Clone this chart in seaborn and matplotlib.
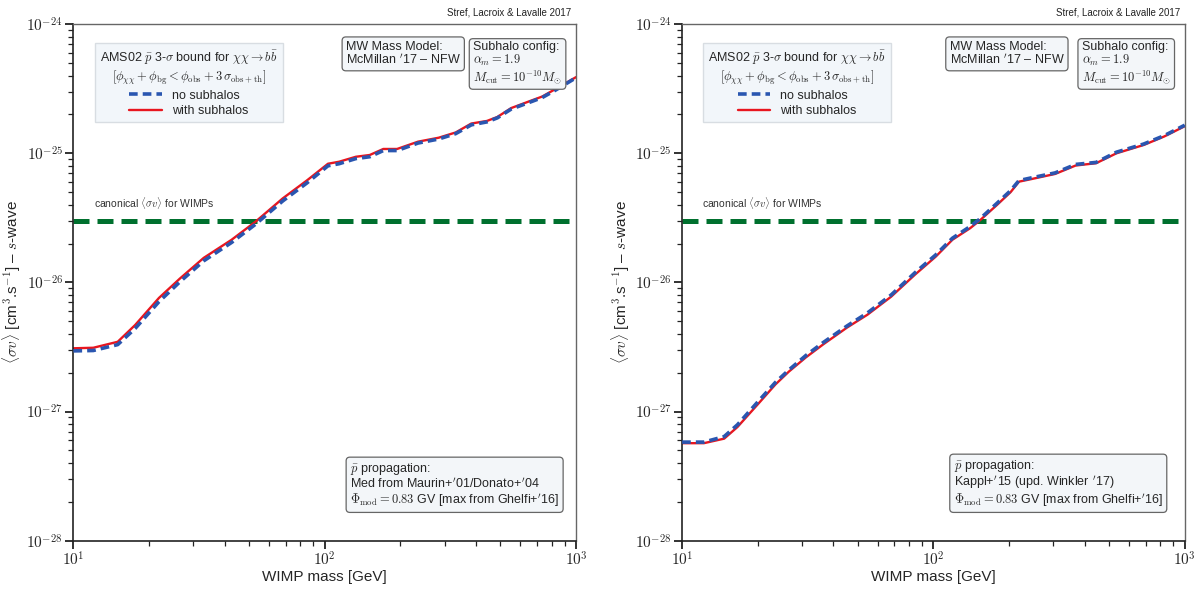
import numpy as np
import pandas as pd
import matplotlib
matplotlib.use("Agg")
import matplotlib.pyplot as plt
import matplotlib.ticker as mticker
import seaborn as sns

sns.set_theme(style="ticks")
plt.rcParams['font.family'] = ['Liberation Sans', 'DejaVu Sans']
plt.rcParams['mathtext.fontset'] = 'cm'

# --- data ---
# left panel: Med propagation
mass_med = [10, 12, 15, 17.6, 21.9, 26.5, 33, 42.6, 53, 68, 85, 103, 114, 133, 151,
            171, 194, 235, 284, 332, 383, 442, 486, 552, 667, 733, 832, 1000]
sv_med_sub = [3.09e-27, 3.12e-27, 3.47e-27, 4.68e-27, 7.59e-27, 1.07e-26, 1.55e-26,
              2.14e-26, 2.95e-26, 4.47e-26, 6.17e-26, 8.3e-26, 8.6e-26, 9.4e-26, 9.7e-26,
              1.08e-25, 1.08e-25, 1.23e-25, 1.32e-25, 1.45e-25, 1.70e-25, 1.78e-25,
              1.91e-25, 2.24e-25, 2.57e-25, 2.75e-25, 3.16e-25, 3.89e-25]
sv_med_nosub = [2.95e-27, 2.97e-27, 3.3e-27, 4.4e-27, 7.1e-27, 1.01e-26, 1.47e-26,
                2.04e-26, 2.82e-26, 4.27e-26, 5.9e-26, 8.0e-26, 8.3e-26, 9.1e-26, 9.4e-26,
                1.05e-25, 1.05e-25, 1.2e-25, 1.29e-25, 1.42e-25, 1.66e-25, 1.75e-25,
                1.88e-25, 2.2e-25, 2.52e-25, 2.7e-25, 3.1e-25, 3.85e-25]

# right panel: Kappl propagation
mass_kap = [10, 12.2, 14.7, 16.6, 20.1, 23.5, 26.6, 31.1, 36.4, 45.3, 54.6, 67.9, 84.5,
            102, 119, 140, 153, 179, 203, 219, 245, 305, 368, 444, 535, 687, 829, 1000]
sv_kap_sub = [5.69e-28, 5.69e-28, 6.17e-28, 7.59e-28, 1.15e-27, 1.62e-27, 2.04e-27,
              2.63e-27, 3.31e-27, 4.47e-27, 5.62e-27, 7.76e-27, 1.15e-26, 1.58e-26,
              2.14e-26, 2.63e-26, 3.02e-26, 3.98e-26, 5.01e-26, 6.03e-26, 6.31e-26,
              6.92e-26, 8.04e-26, 8.38e-26, 1.0e-25, 1.16e-25, 1.35e-25, 1.62e-25]
sv_kap_nosub = [5.8e-28, 5.8e-28, 6.4e-28, 7.9e-28, 1.2e-27, 1.68e-27, 2.1e-27,
                2.72e-27, 3.42e-27, 4.6e-27, 5.8e-27, 8.0e-27, 1.19e-26, 1.63e-26,
                2.2e-26, 2.71e-26, 3.1e-26, 4.1e-26, 5.15e-26, 6.15e-26, 6.45e-26,
                7.05e-26, 8.2e-26, 8.5e-26, 1.02e-25, 1.18e-25, 1.37e-25, 1.65e-25]

canonical_sv = 3e-26
xticks = [10, 100, 1000]
yticks = [1e-28, 1e-27, 1e-26, 1e-25, 1e-24]

legend_title = ("AMS02 $\\bar{p}$ 3-$\\sigma$ bound for $\\chi\\chi\\rightarrow b\\bar{b}$\n"
                "$[\\phi_{\\chi\\chi}+\\phi_{\\rm bg}<\\phi_{\\rm obs}+3\\,\\sigma_{\\rm obs+th}]$")
mw_text = "MW Mass Model:\nMcMillan $'$17 – NFW"
sub_text = "Subhalo config:\n$\\alpha_m = 1.9$\n$M_{\\rm cut} = 10^{-10}M_{\\odot}$"
prop_texts = ["$\\bar{p}$ propagation:\nMed from Maurin+$'$01/Donato+$'$04\n"
              "$\\Phi_{\\rm mod} = 0.83$ GV [max from Ghelfi+$'$16]",
              "$\\bar{p}$ propagation:\nKappl+$'$15 (upd. Winkler $'$17)\n"
              "$\\Phi_{\\rm mod} = 0.83$ GV [max from Ghelfi+$'$16]"]
prop_x = [0.55, 0.54]

panels = [(mass_med, sv_med_nosub, sv_med_sub), (mass_kap, sv_kap_nosub, sv_kap_sub)]

fig, axes = plt.subplots(1, 2, figsize=(12.04, 5.89), dpi=100)
fig.subplots_adjust(left=0.061, right=0.984, bottom=0.082, top=0.959, wspace=0.211)

box = dict(boxstyle="round,pad=0.3", facecolor="#f3f6f9", edgecolor="#666666", lw=0.9)

for i, ax in enumerate(axes):
    mass, nosub, sub = panels[i]
    df = pd.DataFrame({"mass": mass, "nosub": nosub, "sub": sub})
    ax.axhline(canonical_sv, color="#00702e", lw=3.6, ls=(0, (3.2, 1.6)), zorder=1)
    sns.lineplot(data=df, x="mass", y="nosub", ax=ax, color="#2a56b0", lw=2.6,
                 label="no subhalos", zorder=3)
    sns.lineplot(data=df, x="mass", y="sub", ax=ax, color="#e8161f", lw=1.7,
                 label="with subhalos", zorder=2)
    ax.lines[1].set_linestyle((0, (2.4, 1.4)))
    ax.set(xscale="log", yscale="log", xlim=(10, 1000), ylim=(1e-28, 1e-24))
    ax.set_xlabel("WIMP mass [GeV]", fontsize=11, labelpad=1)
    ax.set_ylabel("$\\langle\\sigma v\\rangle$ [cm$^3$.s$^{-1}$] – $s$-wave", fontsize=11,
                  labelpad=2)

    fmt = mticker.FuncFormatter(lambda v, p: "$10^{%d}$" % int(round(np.log10(v))))
    ax.xaxis.set_major_locator(mticker.FixedLocator(xticks))
    ax.yaxis.set_major_locator(mticker.FixedLocator(yticks))
    ax.xaxis.set_major_formatter(fmt)
    ax.yaxis.set_major_formatter(fmt)
    ax.xaxis.set_minor_formatter(mticker.NullFormatter())
    ax.yaxis.set_minor_formatter(mticker.NullFormatter())
    ax.xaxis.set_minor_locator(mticker.LogLocator(base=10, subs=np.arange(2, 10), numticks=20))
    ax.yaxis.set_minor_locator(mticker.LogLocator(base=10, subs=np.arange(2, 10), numticks=20))
    ax.tick_params(which="major", direction="out", length=6, width=1.3, labelsize=11,
                   color="#222222")
    ax.tick_params(which="minor", direction="out", length=3.5, width=0.9, color="#222222")
    ax.tick_params(axis="y", pad=1.5)
    ax.tick_params(axis="x", pad=1)
    for s in ["left", "bottom"]:
        ax.spines[s].set_color("#222222")
        ax.spines[s].set_linewidth(1.2)
    for s in ["top", "right"]:
        ax.spines[s].set_color("#666666")
        ax.spines[s].set_linewidth(1.0)

    leg = ax.legend(title=legend_title, loc="upper left", bbox_to_anchor=(0.03, 0.975),
                    fontsize=9, title_fontsize=9, frameon=True, fancybox=False,
                    handlelength=2.6, borderpad=0.4, labelspacing=0.25)
    leg.get_frame().set_facecolor("#f2f6fa")
    leg.get_frame().set_edgecolor("#d8dde2")
    leg.get_frame().set_alpha(1)
    leg.get_title().set_multialignment("center")

    ax.text(0.04, 0.645, "canonical $\\langle\\sigma v\\rangle$ for WIMPs", transform=ax.transAxes,
            fontsize=7.5, color="#333333")
    ax.text(0.542 - 0.01 * i, 0.968, mw_text, transform=ax.transAxes, fontsize=9,
            va="top", ha="left", bbox=box, linespacing=1.0)
    ax.text(0.795, 0.968, sub_text, transform=ax.transAxes, fontsize=9,
            va="top", ha="left", bbox=box, linespacing=1.0)
    ax.text(prop_x[i], 0.062, prop_texts[i], transform=ax.transAxes, fontsize=9,
            va="bottom", ha="left", bbox=box, linespacing=1.0)
    ax.text(0.99, 1.012, "Stref, Lacroix & Lavalle 2017", transform=ax.transAxes,
            fontsize=7, ha="right", va="bottom", color="#222222")

fig.savefig("out.png", dpi=100)
